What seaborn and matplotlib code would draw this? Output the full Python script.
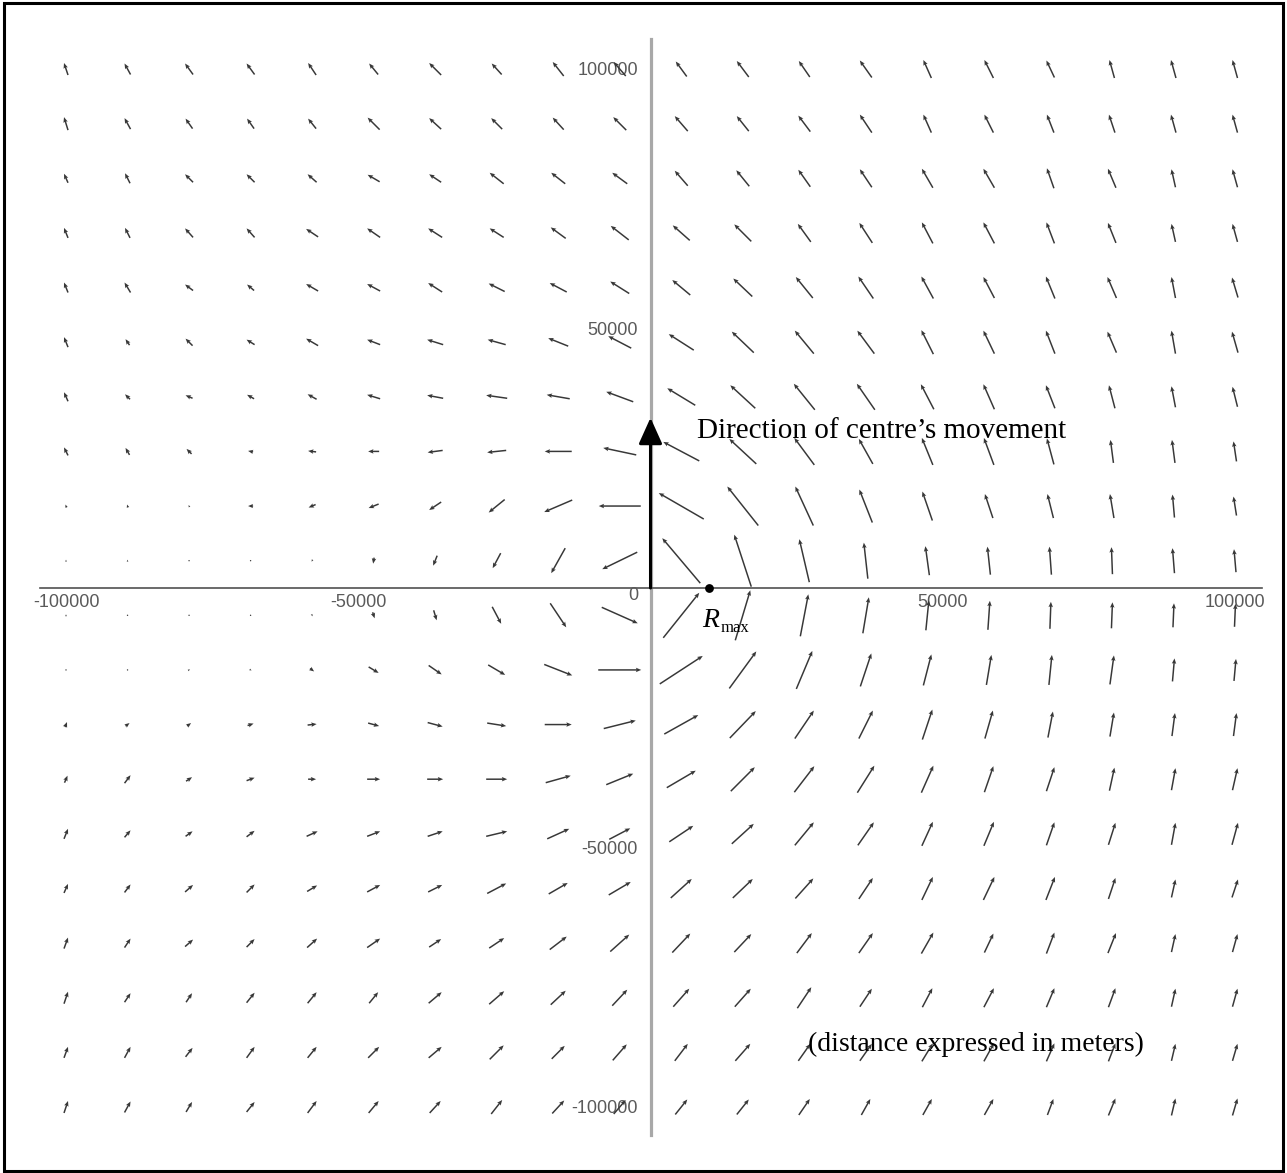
import numpy as np
import matplotlib
matplotlib.use("Agg")
import matplotlib.pyplot as plt
from matplotlib.patches import Rectangle
import seaborn as sns

# Grid of sample points (metres), columns west->east, rows north->south
grid_x = [-100000, -89474, -78947, -68421, -57895, -47368, -36842, -26316, -15789, -5263,
          5263, 15789, 26316, 36842, 47368, 57895, 68421, 78947, 89474, 100000]
grid_y = [100000, 89474, 78947, 68421, 57895, 47368, 36842, 26316, 15789, 5263,
          -5263, -15789, -26316, -36842, -47368, -57895, -68421, -78947, -89474, -100000]

# Wind components at each grid point (eastward / northward), one row per grid_y value
wind_u = [
    [-4, -6, -8, -8, -8, -9, -12, -10, -11, -12, -11, -12, -11, -12, -8, -9, -8, -5, -5, -5],
    [-4, -6, -7, -7, -8, -12, -12, -11, -11, -13, -13, -12, -12, -12, -8, -9, -7, -6, -5, -5],
    [-4, -5, -8, -8, -9, -12, -12, -14, -14, -15, -13, -13, -12, -12, -11, -11, -7, -8, -4, -5],
    [-4, -5, -8, -8, -12, -13, -14, -14, -15, -18, -17, -17, -13, -13, -11, -11, -8, -8, -4, -5],
    [-4, -6, -8, -7, -12, -13, -14, -16, -17, -19, -18, -19, -17, -15, -12, -11, -9, -9, -4, -6],
    [-4, -4, -7, -8, -12, -13, -16, -18, -20, -23, -25, -22, -19, -17, -12, -11, -9, -9, -4, -6],
    [-4, -5, -7, -7, -9, -13, -16, -21, -23, -27, -28, -25, -21, -18, -13, -11, -9, -6, -4, -5],
    [-4, -4, -5, -5, -8, -11, -15, -19, -27, -33, -36, -27, -20, -14, -11, -10, -7, -3, -3, -3],
    [-1, -1, -1, -5, -7, -10, -12, -16, -28, -42, -45, -31, -18, -13, -10, -8, -6, -4, -2, -3],
    [0, 0, 0, 0, -1, -1, -4, -8, -14, -35, -38, -17, -10, -4, -4, -3, -2, -1, -2, -2],
    [0, 0, 0, 0, 1, 2, 3, 9, 16, 36, 36, 15, 8, 6, 3, 2, 1, 1, 1, 1],
    [0, 1, 2, 2, 4, 10, 13, 17, 28, 43, 43, 27, 16, 11, 8, 5, 3, 4, 2, 2],
    [2, 4, 4, 6, 9, 11, 15, 19, 27, 32, 34, 26, 19, 14, 10, 8, 5, 4, 3, 3],
    [3, 6, 6, 8, 8, 13, 16, 21, 25, 27, 29, 24, 20, 17, 12, 9, 8, 5, 4, 5],
    [4, 6, 7, 8, 11, 13, 15, 21, 22, 21, 24, 22, 19, 16, 11, 10, 8, 7, 4, 6],
    [4, 6, 8, 8, 10, 13, 14, 19, 19, 22, 21, 20, 18, 14, 11, 11, 9, 7, 4, 6],
    [4, 6, 8, 8, 10, 13, 12, 15, 17, 19, 18, 17, 15, 14, 12, 9, 8, 8, 4, 5],
    [4, 6, 6, 8, 9, 9, 13, 15, 15, 15, 16, 16, 14, 12, 10, 10, 8, 7, 4, 5],
    [4, 6, 7, 8, 9, 11, 13, 14, 13, 14, 13, 15, 12, 12, 11, 10, 8, 7, 4, 5],
    [4, 6, 6, 8, 9, 10, 11, 11, 12, 12, 12, 12, 11, 9, 9, 9, 6, 7, 4, 5],
]
wind_v = [
    [12, 11, 11, 11, 12, 11, 12, 11, 14, 14, 15, 16, 16, 17, 18, 18, 17, 18, 18, 18],
    [13, 11, 10, 10, 10, 12, 11, 11, 12, 13, 15, 15, 16, 18, 18, 18, 18, 18, 18, 18],
    [9, 10, 8, 8, 8, 7, 8, 11, 11, 11, 15, 16, 17, 18, 19, 19, 20, 19, 18, 18],
    [10, 10, 9, 9, 8, 9, 9, 9, 11, 14, 15, 17, 18, 20, 21, 21, 21, 20, 18, 18],
    [10, 10, 6, 6, 7, 7, 9, 8, 9, 12, 15, 18, 21, 22, 22, 21, 22, 21, 21, 20],
    [10, 6, 7, 5, 7, 5, 5, 5, 8, 12, 16, 21, 23, 23, 24, 23, 23, 21, 23, 21],
    [9, 5, 3, 4, 5, 4, 3, 3, 4, 10, 17, 23, 26, 26, 25, 25, 23, 23, 21, 20],
    [8, 7, 5, 1, 1, 0, -2, -2, 0, 7, 19, 25, 27, 25, 27, 27, 26, 23, 23, 20],
    [3, 3, 2, 0, -3, -4, -8, -13, -12, 0, 26, 39, 39, 33, 29, 24, 24, 24, 23, 19],
    [2, 2, 1, -1, -2, -6, -10, -15, -25, -17, 45, 52, 43, 36, 29, 28, 28, 27, 25, 23],
    [2, 1, 1, 0, -2, -6, -10, -17, -24, -16, 45, 50, 42, 36, 30, 29, 27, 26, 24, 23],
    [1, 1, 1, -1, -3, -6, -9, -10, -11, 0, 28, 37, 38, 33, 31, 30, 30, 29, 23, 22],
    [5, 3, 3, 2, 1, -3, -4, -3, 0, 8, 19, 27, 28, 28, 30, 28, 26, 24, 23, 23],
    [7, 8, 4, 3, 0, 0, 0, 0, 7, 11, 17, 24, 26, 27, 27, 26, 24, 23, 22, 22],
    [10, 7, 5, 6, 5, 5, 5, 5, 10, 11, 16, 20, 23, 23, 24, 24, 23, 22, 22, 22],
    [9, 8, 7, 8, 6, 7, 7, 10, 11, 13, 19, 19, 20, 21, 23, 23, 23, 21, 18, 18],
    [11, 9, 7, 8, 9, 9, 8, 10, 13, 17, 19, 18, 20, 20, 21, 19, 21, 20, 18, 18],
    [12, 9, 9, 10, 11, 11, 11, 13, 14, 16, 18, 18, 21, 18, 19, 19, 19, 19, 18, 18],
    [11, 11, 9, 11, 11, 11, 11, 14, 13, 16, 17, 17, 17, 17, 18, 18, 18, 18, 17, 17],
    [12, 11, 10, 10, 12, 12, 12, 14, 13, 14, 15, 15, 16, 16, 16, 16, 16, 17, 17, 17],
]

tick_values = [-100000, -50000, 50000, 100000]
tick_labels = ["-100000", "-50000", "50000", "100000"]
r_max = 10000
movement_tip = 32800

sns.set_theme(style="white")
plt.rcParams["font.family"] = ["Liberation Sans", "DejaVu Sans"]

W, H = 1287, 1173
fig = plt.figure(figsize=(W / 100, H / 100), dpi=100)
fig.patch.set_facecolor("white")
ax = fig.add_axes([40 / W, 38 / H, 1222 / W, 1096 / H])
ax.set_facecolor("white")
ax.grid(False)

# Wind arrows, lengths given in screen pixels
X, Y = np.meshgrid(grid_x, grid_y)
ax.quiver(X, Y, np.array(wind_u, float), np.array(wind_v, float),
          angles="uv", scale_units="dots", scale=1, units="dots",
          width=1.5, headwidth=3.0, headlength=3.6, headaxislength=3.1,
          pivot="middle", color="#383838", zorder=3)

ax.set_xlim(-104450, 104620)
ax.set_ylim(-105400, 105780)

# Axes through the origin
for side in ("top", "right"):
    ax.spines[side].set_visible(False)
ax.spines["left"].set_position(("data", 0))
ax.spines["bottom"].set_position(("data", 0))
ax.spines["left"].set_color("#a8a8a8")
ax.spines["left"].set_linewidth(2.3)
ax.spines["bottom"].set_color("#505050")
ax.spines["bottom"].set_linewidth(1.2)

ax.set_xticks(tick_values)
ax.set_xticklabels(tick_labels)
ax.set_yticks(tick_values)
ax.set_yticklabels(tick_labels)
ax.set_xticks(np.arange(-100000, 100001, 10000), minor=True)
ax.set_yticks(np.arange(-100000, 100001, 10000), minor=True)
ax.tick_params(axis="both", which="both", labelsize=13, labelcolor="#5a5a5a",
               color="#555555", width=1)
ax.tick_params(axis="x", which="major", direction="inout", length=7, pad=1)
ax.tick_params(axis="x", which="minor", direction="inout", length=4)
ax.tick_params(axis="y", which="major", direction="out", length=5, pad=4)
ax.tick_params(axis="y", which="minor", direction="out", length=4)
ax.text(-2994, -1400, "0", ha="center", va="center", fontsize=13, color="#5a5a5a")

# Direction of the storm centre's motion
ax.annotate("", xy=(0, movement_tip), xytext=(0, 0),
            arrowprops=dict(arrowstyle="-|>,head_length=1.0,head_width=0.45",
                            mutation_scale=16, lw=2.2, color="black",
                            shrinkA=0, shrinkB=0), zorder=5)
serif = ["Liberation Serif", "DejaVu Serif"]
ax.text(7900, 30250, "Direction of centre\u2019s movement", family=serif,
        fontsize=21, ha="left", va="center", color="black", zorder=6)
ax.text(26900, -87900, "(distance expressed in meters)", family=serif,
        fontsize=20, ha="left", va="center", color="black", zorder=6)

# Radius of maximum wind
sns.scatterplot(x=[r_max], y=[0], s=40, color="black", edgecolor="black",
                linewidth=0, ax=ax, zorder=6, legend=False)
ax.text(8900, -7500, "R", family=serif, style="italic", fontsize=20,
        ha="left", va="baseline", color="black", zorder=6)
ax.text(12000, -8500, "max", family=serif, fontsize=12,
        ha="left", va="baseline", color="black", zorder=6)
ax.set_xlabel("")
ax.set_ylabel("")

# Outer frame
fig.patches.append(Rectangle((4 / W, 2 / H), 1279 / W, 1168 / H,
                             transform=fig.transFigure, fill=False,
                             lw=2.2, edgecolor="black"))

fig.savefig("out.png", dpi=100, facecolor="white")
